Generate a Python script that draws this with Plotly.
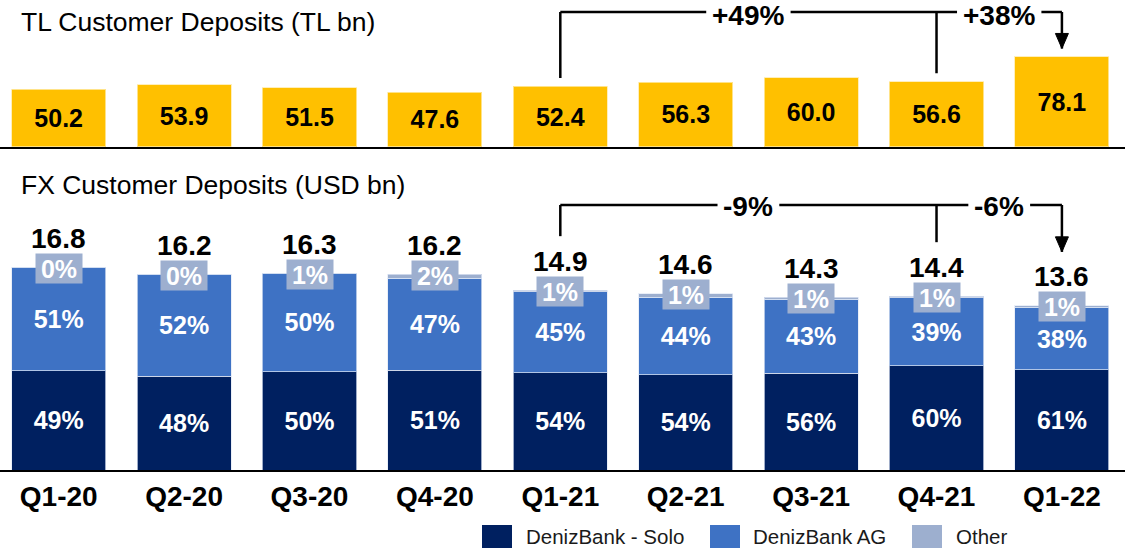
import plotly.graph_objects as go

# ---------------- data ----------------
quarters = ["Q1-20", "Q2-20", "Q3-20", "Q4-20", "Q1-21", "Q2-21", "Q3-21", "Q4-21", "Q1-22"]
tl_deposits = [50.2, 53.9, 51.5, 47.6, 52.4, 56.3, 60.0, 56.6, 78.1]
fx_total = [16.8, 16.2, 16.3, 16.2, 14.9, 14.6, 14.3, 14.4, 13.6]
solo_pct = [49, 48, 50, 51, 54, 54, 56, 60, 61]
ag_pct = [51, 52, 50, 47, 45, 44, 43, 39, 38]
other_pct = [0, 0, 1, 2, 1, 1, 1, 1, 1]
tl_changes = ["+49%", "+38%"]
fx_changes = ["-9%", "-6%"]
series_names = ["DenizBank - Solo", "DenizBank AG", "Other"]
titles = ["TL Customer Deposits (TL bn)", "FX Customer Deposits (USD bn)"]

# ---------------- style / layout constants ----------------
W, H = 1137, 548
FONT = "Liberation Sans, Arial, sans-serif"
GOLD = "#FFC000"
NAVY = "#002060"
AG = "#3E72C4"
OTHER = "#9DAFCF"
EDGE = "rgba(225,232,245,0.7)"

X_RANGE = [-0.468, 8.503]
X_DOMAIN = [0, 1125 / W]
X_PX_PER_UNIT = (X_DOMAIN[1] - X_DOMAIN[0]) * W / (X_RANGE[1] - X_RANGE[0])

TOP_ZERO_PX, TOP_PX_PER_UNIT = 146.7, 1.149
BOT_ZERO_PX, BOT_TOP_PX, BOT_PX_PER_UNIT = 470.0, 195.0, 12.07

top_domain = [1 - TOP_ZERO_PX / H, 1.0]
top_range = [0, TOP_ZERO_PX / TOP_PX_PER_UNIT]
bot_domain = [1 - BOT_ZERO_PX / H, 1 - BOT_TOP_PX / H]
bot_range = [0, (BOT_ZERO_PX - BOT_TOP_PX) / BOT_PX_PER_UNIT]

CHANGE_SIZE = 28
EM_BOLD = {"+": 0.584, "-": 0.333, "%": 0.889}


def text_width_px(s, size):
    return sum(EM_BOLD.get(c, 0.556) for c in s) * size


idx = list(range(len(quarters)))

solo_vals = [t * p / 100 for t, p in zip(fx_total, solo_pct)]
ag_vals = [t * p / 100 for t, p in zip(fx_total, ag_pct)]
other_vals = [max(t - s - a, 0) for t, s, a in zip(fx_total, solo_vals, ag_vals)]

fig = go.Figure()

fig.add_trace(go.Bar(
    x=idx, y=tl_deposits, xaxis="x", yaxis="y", name="TL",
    marker=dict(color=GOLD, line=dict(color="rgba(255,235,170,0.8)", width=1)),
    text=[f"{v:.1f}" for v in tl_deposits], textposition="inside",
    insidetextanchor="middle", constraintext="none",
    textfont=dict(family=FONT, size=25, color="black", weight="bold"),
    showlegend=False, hoverinfo="skip",
))

for vals, pcts, color, name in [
    (solo_vals, solo_pct, NAVY, series_names[0]),
    (ag_vals, ag_pct, AG, series_names[1]),
]:
    fig.add_trace(go.Bar(
        x=idx, y=vals, xaxis="x2", yaxis="y2", name=name,
        marker=dict(color=color, line=dict(color=EDGE, width=1)),
        text=[f"{p}%" for p in pcts], textposition="inside",
        insidetextanchor="middle", constraintext="none",
        textfont=dict(family=FONT, size=25, color="white", weight="bold"),
        showlegend=False, hoverinfo="skip",
    ))

fig.add_trace(go.Bar(
    x=idx, y=other_vals, xaxis="x2", yaxis="y2", name=series_names[2],
    marker=dict(color=OTHER, line=dict(color=EDGE, width=1)),
    showlegend=False, hoverinfo="skip",
))

annotations = []
shapes = []

# totals and "Other" boxes
for i, (t, p) in enumerate(zip(fx_total, other_pct)):
    annotations.append(dict(
        x=i, y=t, xref="x2", yref="y2", text=f"{t:.1f}", showarrow=False,
        yanchor="middle", yshift=29,
        font=dict(family=FONT, size=28, color="black", weight="bold"),
    ))
    annotations.append(dict(
        x=i, y=t, xref="x2", yref="y2", text=f"{p}%", showarrow=False,
        yanchor="middle", yshift=-1, bgcolor=OTHER, borderpad=3,
        width=40, height=23,
        font=dict(family=FONT, size=25, color="white", weight="bold"),
    ))


def bracket(xref, yref, vals, level, gap_units, labels, text_dy, i0=4, i1=7, i2=8):
    line = dict(color="black", width=2.5)
    mids = [(i0 + i1) / 2, (i1 + i2) / 2]
    halfs = [(text_width_px(lab, CHANGE_SIZE) / 2 + 6) / X_PX_PER_UNIT for lab in labels]
    # horizontal segments with gaps for the labels
    xs = [i0, mids[0] - halfs[0], mids[0] + halfs[0], mids[1] - halfs[1],
          mids[1] + halfs[1], i2]
    for a, b in zip(xs[0::2], xs[1::2]):
        shapes.append(dict(type="line", xref=xref, yref=yref, x0=a, x1=b,
                           y0=level, y1=level, line=line))
    for i in (i0, i1):
        shapes.append(dict(type="line", xref=xref, yref=yref, x0=i, x1=i,
                           y0=vals[i] + gap_units, y1=level, line=line))
    shapes.append(dict(type="line", xref=xref, yref=yref, x0=i2, x1=i2,
                       y0=vals[i2] + gap_units, y1=level, line=line))
    shapes.append(dict(type="path", xref=xref, yref=yref,
                       xsizemode="pixel", ysizemode="pixel",
                       xanchor=i2, yanchor=vals[i2] + gap_units,
                       path="M-6.5,15 L6.5,15 L0,0 Z",
                       fillcolor="black", line=dict(color="black", width=1)))
    for xm, lab in zip(mids, labels):
        annotations.append(dict(
            x=xm, y=level, xref=xref, yref=yref, text=lab, showarrow=False,
            yanchor="middle", yshift=text_dy,
            font=dict(family=FONT, size=CHANGE_SIZE, color="black", weight="bold"),
        ))


bracket("x", "y", tl_deposits, (TOP_ZERO_PX - 12) / TOP_PX_PER_UNIT,
        8.5 / TOP_PX_PER_UNIT, tl_changes, -3)
bracket("x2", "y2", fx_total, (BOT_ZERO_PX - 205) / BOT_PX_PER_UNIT,
        54 / BOT_PX_PER_UNIT, fx_changes, -1)

# panel titles
for title, ypx in zip(titles, [22, 185]):
    annotations.append(dict(
        x=19 / W, y=1 - ypx / H, xref="paper", yref="paper", text=title,
        showarrow=False, xanchor="left", yanchor="middle",
        font=dict(family=FONT, size=26.5, color="black"),
    ))

# custom legend
for name, color, sx, tx in zip(series_names, [NAVY, AG, OTHER],
                               [482, 710, 912], [524, 751, 954]):
    shapes.append(dict(type="rect", xref="paper", yref="paper",
                       x0=sx / W, x1=(sx + 30) / W, y0=-0.02, y1=1 - 525 / H,
                       fillcolor=color, line=dict(width=0)))
    annotations.append(dict(
        x=tx / W, y=1 - 536.5 / H, xref="paper", yref="paper", text=name,
        showarrow=False, xanchor="left", yanchor="middle",
        font=dict(family=FONT, size=20.5, color="#1a1a1a"),
    ))

axis_common = dict(range=X_RANGE, domain=X_DOMAIN, showgrid=False, zeroline=False,
                   showline=True, linecolor="black", linewidth=2, ticks="",
                   fixedrange=True)

fig.update_layout(
    width=W, height=H, margin=dict(l=0, r=0, t=0, b=0),
    paper_bgcolor="white", plot_bgcolor="white",
    barmode="stack", bargap=0.25,
    showlegend=False,
    xaxis=dict(anchor="y", showticklabels=False, **axis_common),
    yaxis=dict(domain=top_domain, range=top_range, visible=False, fixedrange=True),
    xaxis2=dict(anchor="y2", tickmode="array", tickvals=idx, ticktext=quarters,
                tickfont=dict(family=FONT, size=28, color="black", weight="bold"),
                ticklabelstandoff=0, **axis_common),
    yaxis2=dict(domain=bot_domain, range=bot_range, visible=False, fixedrange=True),
    annotations=annotations, shapes=shapes,
)

fig.write_html("out.html", config={"displayModeBar": False},
               post_script="document.body.style.margin='0';document.body.style.overflow='hidden';")
